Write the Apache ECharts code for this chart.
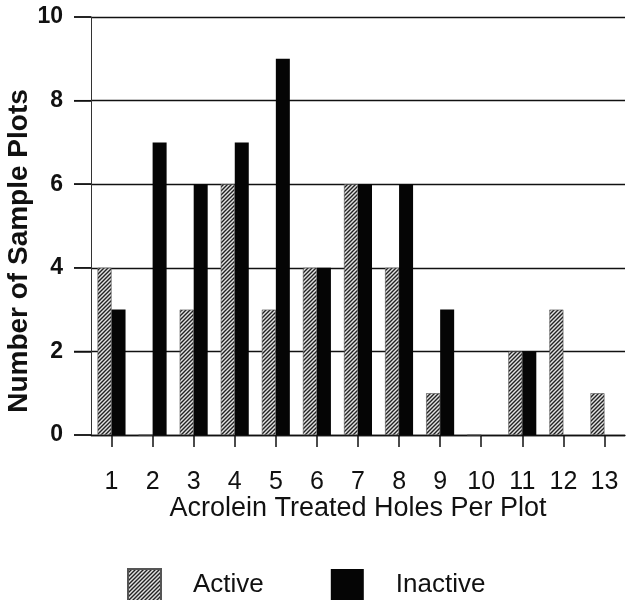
<!DOCTYPE html>
<html>
<head>
<meta charset="utf-8">
<script src="https://cdn.jsdelivr.net/npm/echarts@6/dist/echarts.min.js"></script>
<style>html,body{margin:0;padding:0;background:#fff;}#c{width:633px;height:600px;}</style>
</head>
<body>
<div id="c"></div>
<script>
const categories = ['1','2','3','4','5','6','7','8','9','10','11','12','13'];
const activeValues = [4,0,3,6,3,4,6,4,1,0,2,3,1];
const inactiveValues = [3,7,6,7,9,4,6,6,3,0,2,0,0];
const yTicks = [0,2,4,6,8,10];

function hatch() {
  const s = 4;
  const cv = document.createElement('canvas');
  cv.width = s; cv.height = s;
  const g = cv.getContext('2d');
  g.fillStyle = '#e2e2e2';
  g.fillRect(0,0,s,s);
  g.strokeStyle = '#222';
  g.lineWidth = 1.4;
  g.beginPath();
  g.moveTo(-1, s+1); g.lineTo(s+1, -1);
  g.moveTo(-1, 1); g.lineTo(1, -1);
  g.moveTo(s-1, s+1); g.lineTo(s+1, s-1);
  g.stroke();
  return cv;
}
const hatchFill = {image: hatch(), repeat: 'repeat'};

const chart = echarts.init(document.getElementById('c'), null, {renderer: 'canvas'});
chart.setOption({
  animation: false,
  backgroundColor: '#fff',
  grid: {left: 91, right: 8, top: 17, bottom: 165, containLabel: false, outerBoundsMode: 'none'},
  legend: {
    left: 127, top: 568, padding: 0,
    itemWidth: 33, itemHeight: 32, itemGap: 67,
    icon: 'rect',
    textStyle: {fontFamily: 'Liberation Sans', fontSize: 26, color: '#111', padding: [0,0,0,27]},
    data: ['Active', 'Inactive']
  },
  xAxis: {
    type: 'category',
    data: categories,
    name: 'Acrolein Treated Holes Per Plot',
    nameLocation: 'middle',
    nameGap: 60,
    nameMoveOverlap: false,
    nameTextStyle: {fontFamily: 'Liberation Sans', fontSize: 27, color: '#111'},
    axisLine: {lineStyle: {color: '#111', width: 1.3}},
    axisTick: {show: true, alignWithLabel: true, length: 12, lineStyle: {color: '#111', width: 1.5}},
    axisLabel: {fontFamily: 'Liberation Sans', fontSize: 25, color: '#111', margin: 35}
  },
  yAxis: {
    type: 'value',
    min: yTicks[0], max: yTicks[yTicks.length-1], interval: 2,
    name: 'Number of Sample Plots',
    nameLocation: 'middle',
    nameGap: 58,
    nameMoveOverlap: false,
    nameTextStyle: {fontFamily: 'Liberation Sans', fontSize: 28, fontWeight: 'bold', color: '#111', padding: [0,50,0,0]},
    axisLine: {show: true, onZero: false, lineStyle: {color: '#333', width: 1}},
    axisTick: {show: true, inside: false, length: 17, lineStyle: {color: '#111', width: 1.5}},
    axisLabel: {fontFamily: 'Liberation Sans', fontSize: 23, fontWeight: 'bold', color: '#111', margin: 28},
    splitLine: {show: true, lineStyle: {color: '#111', width: 1.3}}
  },
  series: [
    {
      name: 'Active', type: 'bar', data: activeValues,
      barWidth: 14, barGap: '0%',
      itemStyle: {color: hatchFill, borderColor: '#555', borderWidth: 0.6}
    },
    {
      name: 'Inactive', type: 'bar', data: inactiveValues,
      barWidth: 14, barGap: '0%',
      itemStyle: {color: '#050505'}
    }
  ]
});

// y-axis outward tick marks, placed through the chart's own scale
const tickLines = yTicks.map(v => {
  const p = chart.convertToPixel({gridIndex: 0}, [0, v]);
  const x0 = chart.convertToPixel({yAxisIndex: 0}, v) !== undefined ? chart.getModel().getComponent('grid', 0).coordinateSystem.getRect().x : p[0];
  return {
    type: 'line',
    shape: {x1: x0 - 17, y1: p[1], x2: x0, y2: p[1]},
    style: {stroke: '#111', lineWidth: 1.3},
    silent: true
  };
});
chart.setOption({graphic: tickLines});
</script>
</body>
</html>
